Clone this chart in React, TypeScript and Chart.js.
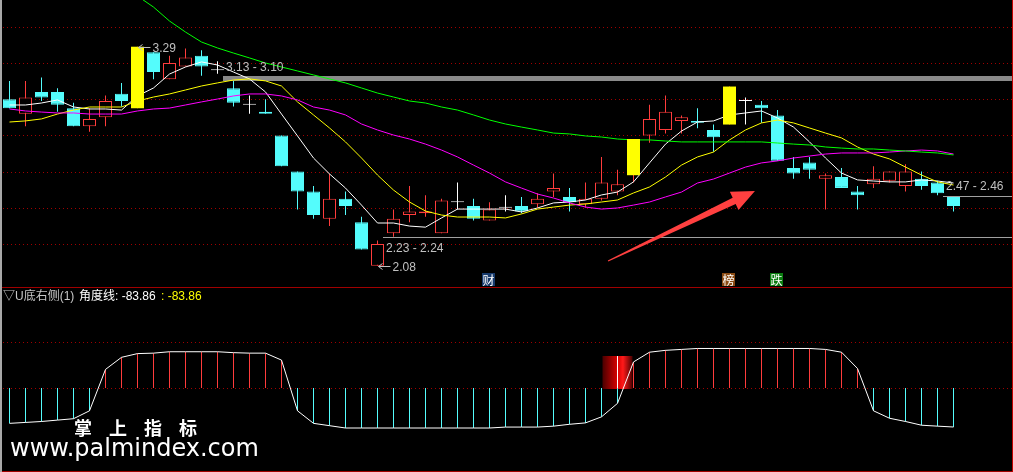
import React, { useEffect, useRef } from "react";
import { Chart, registerables } from "chart.js";

Chart.register(...registerables);

// ---------------- data ----------------
const opens = [3.00, 2.92, 3.04, 3.04, 2.95, 2.85, 2.90, 3.03, 2.95, 3.26, 3.11, 3.18, 3.24, 3.16, 3.06, 2.97, 2.93, 2.80, 2.60, 2.49, 2.34, 2.45, 2.32, 2.08, 2.26, 2.36, 2.37, 2.26, 2.43, 2.41, 2.33, 2.40, 2.41, 2.42, 2.49, 2.46, 2.42, 2.45, 2.49, 2.58, 2.80, 2.83, 2.88, 2.88, 2.83, 2.86, 2.99, 2.97, 2.91, 2.62, 2.65, 2.56, 2.57, 2.49, 2.53, 2.55, 2.52, 2.56, 2.54, 2.46];
const highs = [3.10, 3.10, 3.12, 3.06, 2.98, 2.95, 3.02, 3.09, 3.29, 3.26, 3.24, 3.28, 3.27, 3.21, 3.10, 3.02, 3.00, 2.80, 2.60, 2.52, 2.59, 2.49, 2.35, 2.22, 2.39, 2.52, 2.47, 2.45, 2.54, 2.45, 2.43, 2.47, 2.46, 2.48, 2.59, 2.51, 2.54, 2.68, 2.61, 2.78, 2.97, 3.02, 2.91, 2.95, 2.86, 3.07, 3.01, 2.99, 2.94, 2.68, 2.68, 2.59, 2.62, 2.52, 2.63, 2.60, 2.64, 2.60, 2.55, 2.46];
const lows = [2.95, 2.85, 2.99, 2.93, 2.85, 2.82, 2.85, 2.96, 2.95, 3.11, 3.11, 3.18, 3.13, 3.14, 2.96, 2.92, 2.92, 2.63, 2.39, 2.34, 2.30, 2.36, 2.17, 2.08, 2.24, 2.32, 2.35, 2.26, 2.39, 2.33, 2.33, 2.38, 2.37, 2.40, 2.46, 2.38, 2.40, 2.44, 2.47, 2.54, 2.76, 2.81, 2.81, 2.84, 2.71, 2.86, 2.86, 2.87, 2.66, 2.56, 2.56, 2.39, 2.51, 2.39, 2.51, 2.54, 2.49, 2.50, 2.47, 2.38];
const closes = [2.95, 3.01, 3.01, 2.97, 2.85, 2.89, 2.99, 2.99, 3.29, 3.15, 3.20, 3.23, 3.18, 3.16, 2.98, 2.97, 2.92, 2.63, 2.49, 2.36, 2.45, 2.41, 2.17, 2.20, 2.34, 2.38, 2.38, 2.44, 2.43, 2.34, 2.39, 2.40, 2.38, 2.45, 2.51, 2.43, 2.45, 2.54, 2.53, 2.78, 2.89, 2.93, 2.90, 2.87, 2.79, 3.07, 2.99, 2.95, 2.66, 2.59, 2.61, 2.58, 2.51, 2.47, 2.56, 2.60, 2.60, 2.52, 2.48, 2.41];

const ma5 = [2.968, 2.968, 2.979, 2.996, 2.957, 2.946, 2.946, 2.940, 3.018, 3.062, 3.139, 3.178, 3.206, 3.189, 3.150, 3.112, 3.040, 2.918, 2.797, 2.675, 2.587, 2.509, 2.415, 2.316, 2.316, 2.299, 2.293, 2.344, 2.393, 2.393, 2.393, 2.393, 2.377, 2.399, 2.427, 2.432, 2.443, 2.471, 2.487, 2.543, 2.648, 2.752, 2.824, 2.874, 2.880, 2.913, 2.924, 2.935, 2.896, 2.846, 2.764, 2.675, 2.592, 2.554, 2.548, 2.543, 2.543, 2.554, 2.548, 2.537];
const ma10 = [2.874, 2.880, 2.891, 2.918, 2.940, 2.957, 2.957, 2.957, 2.990, 3.012, 3.029, 3.051, 3.073, 3.090, 3.106, 3.112, 3.101, 3.073, 2.985, 2.913, 2.841, 2.764, 2.675, 2.581, 2.498, 2.432, 2.382, 2.360, 2.349, 2.349, 2.349, 2.344, 2.366, 2.393, 2.404, 2.415, 2.421, 2.432, 2.443, 2.482, 2.515, 2.570, 2.636, 2.681, 2.708, 2.775, 2.830, 2.869, 2.885, 2.869, 2.841, 2.813, 2.786, 2.736, 2.697, 2.670, 2.625, 2.581, 2.543, 2.526];
const ma20 = [2.946, 2.935, 2.929, 2.924, 2.924, 2.918, 2.918, 2.918, 2.935, 2.946, 2.951, 2.968, 2.985, 3.001, 3.018, 3.029, 3.029, 3.018, 2.996, 2.957, 2.940, 2.913, 2.863, 2.830, 2.802, 2.780, 2.752, 2.719, 2.681, 2.636, 2.592, 2.543, 2.509, 2.476, 2.454, 2.427, 2.404, 2.393, 2.399, 2.415, 2.432, 2.460, 2.487, 2.537, 2.559, 2.592, 2.625, 2.648, 2.659, 2.675, 2.686, 2.697, 2.703, 2.703, 2.703, 2.708, 2.714, 2.719, 2.714, 2.697];
const ma60 = [null, null, null, null, null, null, null, 3.659, 3.570, 3.509, 3.432, 3.371, 3.316, 3.283, 3.255, 3.228, 3.200, 3.178, 3.156, 3.134, 3.112, 3.090, 3.062, 3.034, 3.012, 2.990, 2.979, 2.957, 2.940, 2.913, 2.885, 2.863, 2.846, 2.830, 2.813, 2.808, 2.797, 2.791, 2.780, 2.775, 2.775, 2.769, 2.764, 2.764, 2.764, 2.764, 2.764, 2.764, 2.758, 2.752, 2.747, 2.736, 2.730, 2.725, 2.725, 2.719, 2.714, 2.708, 2.703, 2.692];

const limitUpIdx = [8, 39, 45];
const gridPrices = [3.4, 3.2, 3.0, 2.8, 2.6, 2.4, 2.2];

const levelIdx = [13, 23, 58];
const levelHigh = [3.13, 2.24, 2.47];
const levelLow = [3.10, 2.23, 2.46];
const levelText = ["3.13 - 3.10", "2.23 - 2.24", "2.47 - 2.46"];
const levelAbove = [true, false, true];

const extremeIdx = [8, 23];
const extremePrice = [3.29, 2.08];

const eventIdx = [30, 45, 48];
const eventText = ["财", "榜", "跌"];
const eventColor = ["#173a6c", "#8a4a12", "#0a7d10"];

const arrowTail = [37.41, 2.106];
const arrowTip = [46.59, 2.493];

const angleValues = [-76, -74, -72, -69, -66, -49, 40, 66, 74, 75, 78, 78, 78, 78, 76, 75, 75, 60, -49, -76, -81, -86, -86, -86, -86, -86, -86, -86, -86, -86, -86, -84, -84, -84, -82, -78, -75, -62, -33, 56, 77, 81, 83, 85, 85, 85, 85, 85, 85, 85, 85, 83, 77, 42, -49, -65, -72, -80, -82, -83.86];
const angleGrid = [100, 0];
const signalIdx = 38;
const signalRange = [-2, 69];

const indicatorName = "▽U底右侧(1)";
const angleName = "角度线";
const lastAngle = -83.86;

// ---------------- layout / style ----------------
const X_MIN = -0.59375;
const X_MAX = 62.71875;
const P_MIN = 1.9624;
const P_MAX = 3.5481;
const V_MIN = -180.6;
const V_MAX = 217.2;
const LEVEL_OFFSET = 0.35;

const UP = "#ff3c3c";
const DOWN = "#54fcfc";
const FLAT = "#ffffff";
const LIMIT = "#ffff00";
const GRID_RED = "#a00000";
const BAND_GRAY = "#8a8a8a";
const LINE_GRAY = "#a0a0a0";
const LABEL_GRAY = "#c0c0c0";
const ARROW_RED = "#ff4040";
const LABEL_FONT = '12px "Liberation Sans", Arial, sans-serif';

const idx = opens.map((_, i) => i);
const colorOf = (i: number) => (closes[i] > opens[i] ? UP : closes[i] < opens[i] ? DOWN : FLAT);
const normalIdx = idx.filter((i) => !limitUpIdx.includes(i));

const upperPlugin = {
  id: "upperDecor",
  beforeDatasetsDraw(chart: any) {
    const { ctx, chartArea: a, scales } = chart;
    const x = scales.x, y = scales.y;
    ctx.save();
    ctx.strokeStyle = GRID_RED;
    ctx.lineWidth = 1;
    ctx.setLineDash([1, 3]);
    for (const p of gridPrices) {
      const yy = Math.round(y.getPixelForValue(p)) + 0.5;
      ctx.beginPath();
      ctx.moveTo(a.left + 3, yy);
      ctx.lineTo(a.right, yy);
      ctx.stroke();
    }
    ctx.setLineDash([]);
    levelIdx.forEach((li, k) => {
      const x0 = Math.round(x.getPixelForValue(li + LEVEL_OFFSET));
      const yh = y.getPixelForValue(levelHigh[k]);
      const yl = y.getPixelForValue(levelLow[k]);
      const w = a.right - x0;
      if (Math.abs(yl - yh) >= 3) {
        ctx.fillStyle = BAND_GRAY;
        const t = Math.round(Math.min(yh, yl));
        ctx.fillRect(x0, t, w, Math.round(Math.max(yh, yl)) - t);
      } else {
        ctx.fillStyle = LINE_GRAY;
        ctx.fillRect(x0, Math.floor((yh + yl) / 2), w, 1);
      }
    });
    ctx.restore();
  },
  afterDatasetsDraw(chart: any) {
    const { ctx, chartArea: a, scales } = chart;
    const x = scales.x, y = scales.y;
    ctx.save();
    ctx.font = LABEL_FONT;
    ctx.fillStyle = LABEL_GRAY;
    ctx.textBaseline = "middle";
    ctx.textAlign = "left";
    levelIdx.forEach((li, k) => {
      const x0 = x.getPixelForValue(li + LEVEL_OFFSET);
      const yh = y.getPixelForValue(levelHigh[k]);
      const yl = y.getPixelForValue(levelLow[k]);
      const ty = levelAbove[k] ? Math.min(yh, yl) - 8 : Math.max(yh, yl) + 10;
      ctx.fillText(levelText[k], x0 + 3, ty);
    });
    ctx.strokeStyle = LABEL_GRAY;
    ctx.lineWidth = 1;
    extremeIdx.forEach((ei, k) => {
      const cx = x.getPixelForValue(ei);
      const yy = Math.round(y.getPixelForValue(extremePrice[k])) + 0.5;
      ctx.beginPath();
      ctx.moveTo(cx + 1, yy);
      ctx.lineTo(cx + 13, yy);
      ctx.moveTo(cx + 1, yy);
      ctx.lineTo(cx + 5, yy - 3);
      ctx.moveTo(cx + 1, yy);
      ctx.lineTo(cx + 5, yy + 3);
      ctx.stroke();
      ctx.fillText(extremePrice[k].toFixed(2), cx + 15, yy + 1);
    });
    eventIdx.forEach((ei, k) => {
      const cx = Math.floor(x.getPixelForValue(ei));
      const top = a.bottom - 14;
      ctx.fillStyle = eventColor[k];
      ctx.fillRect(cx - 7, top, 13, 13);
      ctx.fillStyle = "#ffffff";
      ctx.font = '12px "Noto Sans CJK SC", sans-serif';
      ctx.textAlign = "center";
      ctx.fillText(eventText[k], cx - 0.5, top + 7);
    });
    const tx = x.getPixelForValue(arrowTail[0]);
    const ty = y.getPixelForValue(arrowTail[1]);
    const hx = x.getPixelForValue(arrowTip[0]);
    const hy = y.getPixelForValue(arrowTip[1]);
    const L = Math.hypot(hx - tx, hy - ty);
    const ux = (hx - tx) / L, uy = (hy - ty) / L;
    const nx = -uy, ny = ux;
    const bx = hx - ux * 23, by = hy - uy * 23;
    ctx.fillStyle = ARROW_RED;
    ctx.beginPath();
    ctx.moveTo(tx + nx * 0.6, ty + ny * 0.6);
    ctx.lineTo(bx + nx * 3.5, by + ny * 3.5);
    ctx.lineTo(bx + nx * 10, by + ny * 10);
    ctx.lineTo(hx, hy);
    ctx.lineTo(bx - nx * 10, by - ny * 10);
    ctx.lineTo(bx - nx * 3.5, by - ny * 3.5);
    ctx.lineTo(tx - nx * 0.6, ty - ny * 0.6);
    ctx.closePath();
    ctx.fill();
    ctx.restore();
  },
};

const lowerPlugin = {
  id: "lowerDecor",
  beforeDatasetsDraw(chart: any) {
    const { ctx, chartArea: a, scales } = chart;
    ctx.save();
    ctx.strokeStyle = GRID_RED;
    ctx.lineWidth = 1;
    ctx.setLineDash([1, 3]);
    for (const v of angleGrid) {
      const yy = Math.round(scales.y.getPixelForValue(v)) + 0.5;
      ctx.beginPath();
      ctx.moveTo(a.left + 3, yy);
      ctx.lineTo(a.right, yy);
      ctx.stroke();
    }
    ctx.restore();
  },
};

const baseOptions = (ymin: number, ymax: number) => ({
  responsive: false,
  animation: false as const,
  devicePixelRatio: 1,
  events: [] as any[],
  layout: { padding: 0 },
  plugins: { legend: { display: false }, tooltip: { enabled: false }, title: { display: false } },
  scales: {
    x: { type: "linear" as const, min: X_MIN, max: X_MAX, display: false, offset: false },
    y: { type: "linear" as const, min: ymin, max: ymax, display: false },
  },
});

const lineDs = (data: (number | null)[], color: string, order: number) => ({
  type: "line" as const,
  data: data.map((v, i) => ({ x: i, y: v })),
  borderColor: color,
  borderWidth: 1,
  pointRadius: 0,
  tension: 0,
  spanGaps: false,
  order,
});

const signalFill = (c: any) => {
  const chart = c.chart;
  const xs = chart && chart.scales && chart.scales.x;
  const cx = xs ? xs.getPixelForValue(signalIdx) : NaN;
  if (!Number.isFinite(cx)) return "#c00000";
  const g = chart.ctx.createLinearGradient(cx - 15, 0, cx + 15, 0);
  g.addColorStop(0, "#4a0000");
  g.addColorStop(0.5, "#d80000");
  g.addColorStop(0.68, "#ff1a1a");
  g.addColorStop(1, "#480000");
  return g;
};

export default function App() {
  const topRef = useRef<HTMLCanvasElement>(null);
  const botRef = useRef<HTMLCanvasElement>(null);

  useEffect(() => {
    document.body.style.margin = "0";
    document.body.style.background = "#000";

    const top = new Chart(topRef.current as HTMLCanvasElement, {
      type: "bar",
      data: {
        datasets: [
          {
            type: "bar",
            data: idx.map((i) => ({ x: i, y: [lows[i], highs[i]] })),
            backgroundColor: idx.map((i) => colorOf(i)),
            borderWidth: 0,
            barThickness: 1,
            grouped: false,
            inflateAmount: 0,
            order: 3,
          } as any,
          {
            type: "bar",
            data: normalIdx.map((i) => ({ x: i, y: [Math.min(opens[i], closes[i]), Math.max(opens[i], closes[i])] })),
            backgroundColor: normalIdx.map((i) => (colorOf(i) === UP ? "#000000" : colorOf(i))),
            borderColor: normalIdx.map((i) => colorOf(i)),
            borderWidth: 1,
            borderSkipped: false,
            barThickness: 13,
            minBarLength: 1,
            grouped: false,
            inflateAmount: 0,
            order: 2,
          } as any,
          lineDs(ma60, "#00ff00", 1),
          lineDs(ma20, "#ff00ff", 1),
          lineDs(ma10, "#ffff00", 1),
          lineDs(ma5, "#ffffff", 1),
          {
            type: "bar",
            data: limitUpIdx.map((i) => ({ x: i, y: [opens[i], closes[i]] })),
            backgroundColor: LIMIT,
            borderColor: LIMIT,
            borderWidth: 0,
            barThickness: 13,
            grouped: false,
            inflateAmount: 0,
            order: 0,
          } as any,
        ],
      },
      options: baseOptions(P_MIN, P_MAX) as any,
      plugins: [upperPlugin],
    });

    const bottom = new Chart(botRef.current as HTMLCanvasElement, {
      type: "bar",
      data: {
        datasets: [
          {
            type: "bar",
            data: [{ x: signalIdx, y: signalRange }],
            backgroundColor: signalFill,
            borderWidth: 0,
            barThickness: 30,
            grouped: false,
            inflateAmount: 0,
            order: 4,
          } as any,
          {
            type: "bar",
            data: angleValues.map((v, i) => ({ x: i, y: v })),
            backgroundColor: angleValues.map((v) => (v >= 0 ? UP : DOWN)),
            borderWidth: 0,
            barThickness: 1,
            grouped: false,
            inflateAmount: 0,
            order: 2,
          } as any,
          {
            type: "bar",
            data: [{ x: signalIdx, y: [0, signalRange[1]] }],
            backgroundColor: "#ffffff",
            borderWidth: 0,
            barThickness: 1,
            grouped: false,
            inflateAmount: 0,
            order: 1,
          } as any,
          lineDs(angleValues, "#ffffff", 0),
        ],
      },
      options: baseOptions(V_MIN, V_MAX) as any,
      plugins: [lowerPlugin],
    });

    return () => {
      top.destroy();
      bottom.destroy();
    };
  }, []);

  const headerFont = '"Liberation Sans", Arial, "Noto Sans CJK SC", sans-serif';
  const span = (left: number, color: string, text: string) => (
    <span
      style={{
        position: "absolute",
        left,
        top: 290,
        fontSize: 12,
        lineHeight: "12px",
        color,
        whiteSpace: "nowrap",
        fontFamily: headerFont,
      }}
    >
      {text}
    </span>
  );

  return (
    <div
      style={{
        position: "fixed",
        left: 0,
        top: 0,
        width: 1013,
        height: 472,
        background: "#000",
        overflow: "hidden",
      }}
    >
      <canvas ref={topRef} width={1013} height={287} style={{ position: "absolute", left: 0, top: 0 }} />
      <canvas ref={botRef} width={1013} height={185} style={{ position: "absolute", left: 0, top: 287 }} />
      <div style={{ position: "absolute", left: 0, top: 287, width: 1013, height: 1, background: "#a00000" }} />
      <div style={{ position: "absolute", left: 0, top: 471, width: 1013, height: 1, background: "#a00000" }} />
      <div style={{ position: "absolute", left: 1012, top: 0, width: 1, height: 472, background: "#c00000" }} />
      <div style={{ position: "absolute", left: 0, top: 0, width: 2, height: 472, background: "#a8a8a8" }} />
      {span(3, "#c8c8c8", indicatorName)}
      {span(79, "#ffffff", `${angleName}: ${lastAngle.toFixed(2)}`)}
      {span(161, "#ffff00", `: ${lastAngle.toFixed(2)}`)}
      <div
        style={{
          position: "absolute",
          left: 74,
          top: 418,
          fontSize: 18,
          lineHeight: "18px",
          fontWeight: "bold",
          letterSpacing: "17px",
          color: "#ffffff",
          whiteSpace: "nowrap",
          fontFamily: '"Noto Sans CJK SC", sans-serif',
        }}
      >
        掌上指标
      </div>
      <div
        style={{
          position: "absolute",
          left: 10,
          top: 436,
          fontSize: 24,
          lineHeight: "24px",
          color: "#ffffff",
          whiteSpace: "nowrap",
          fontFamily: '"DejaVu Sans", sans-serif',
        }}
      >
        www.palmindex.com
      </div>
    </div>
  );
}
